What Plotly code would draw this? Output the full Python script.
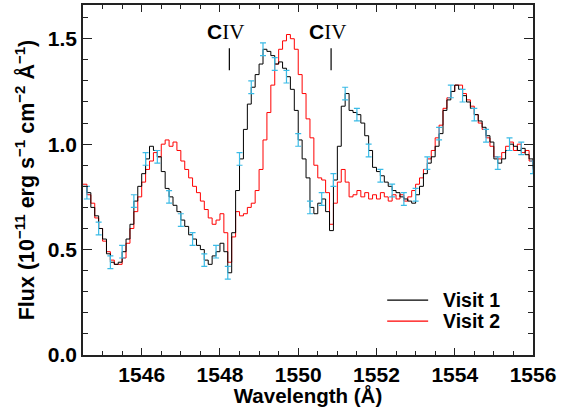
import numpy as np
import plotly.graph_objects as go

# Wavelength sampling (Angstrom), 0.1 A steps from 1544.5 to 1556.0
wl_start, wl_step, n_pts = 1544.5, 0.1, 116
wavelength = np.round(wl_start + wl_step * np.arange(n_pts), 2)

visit1 = [
    0.80, 0.77, 0.70, 0.66, 0.60, 0.55, 0.48, 0.44, 0.43, 0.44,
    0.49, 0.55, 0.62, 0.73, 0.80, 0.86, 0.93, 0.99, 0.97, 0.94,
    0.87, 0.79, 0.75, 0.71, 0.68, 0.64, 0.61, 0.57, 0.55, 0.52,
    0.50, 0.45, 0.43, 0.47, 0.49, 0.53, 0.49, 0.39, 0.58, 0.78,
    0.93, 1.07, 1.19, 1.27, 1.33, 1.38, 1.45, 1.44, 1.42, 1.38,
    1.39, 1.36, 1.32, 1.26, 1.16, 1.02, 0.93, 0.84, 0.70, 0.67,
    0.72, 0.74, 0.68, 0.59, 0.83, 0.99, 1.18, 1.24, 1.16, 1.15,
    1.14, 1.10, 1.04, 0.97, 0.89, 0.87, 0.85, 0.82, 0.80, 0.78,
    0.77, 0.75, 0.74, 0.73, 0.72, 0.76, 0.80, 0.86, 0.91, 0.94,
    0.99, 1.05, 1.16, 1.21, 1.25, 1.28, 1.26, 1.23, 1.20, 1.17,
    1.14, 1.11, 1.08, 1.04, 1.01, 0.93, 0.91, 0.93, 0.97, 1.00,
    0.99, 0.97, 0.98, 0.95, 0.93, 0.89,
]

visit2 = [
    0.81, 0.76, 0.72, 0.65, 0.60, 0.54, 0.49, 0.45, 0.43, 0.43,
    0.46, 0.53, 0.60, 0.68, 0.75, 0.82, 0.88, 0.92, 0.96, 0.94,
    1.00, 1.02, 0.99, 1.01, 0.97, 0.92, 0.88, 0.84, 0.80, 0.77,
    0.73, 0.69, 0.65, 0.62, 0.64, 0.67, 0.58, 0.44, 0.56, 0.68,
    0.66, 0.67, 0.70, 0.72, 0.78, 0.88, 1.02, 1.15, 1.28, 1.38,
    1.45, 1.49, 1.52, 1.50, 1.45, 1.33, 1.24, 1.12, 1.03, 0.90,
    0.84, 0.83, 0.77, 0.62, 0.72, 0.82, 0.88, 0.82, 0.75, 0.76,
    0.78, 0.75, 0.77, 0.74, 0.76, 0.74, 0.77, 0.75, 0.73, 0.76,
    0.74, 0.76, 0.73, 0.75, 0.78, 0.81, 0.84, 0.88, 0.93, 0.97,
    1.03, 1.09, 1.17, 1.22, 1.25, 1.28, 1.28, 1.24, 1.21, 1.18,
    1.14, 1.10, 1.07, 1.03, 0.99, 0.94, 0.93, 0.96, 0.99, 1.01,
    0.97, 1.00, 0.96, 0.97, 0.92, 0.88,
]

visit1_err = 0.03           # flux uncertainty shown by the cyan bars
err_every = 3               # error bars drawn on every 3rd pixel of Visit 1

civ_wavelength = [1548.24, 1550.84]   # C IV doublet markers
civ_mark_top, civ_mark_bottom, civ_label_y = 1.455, 1.35, 1.53

series_names = ["Visit 1", "Visit 2"]
series_colors = ["#000000", "#ff0000"]

x_ticks = [1546, 1548, 1550, 1552, 1554, 1556]
y_ticks = [0.0, 0.5, 1.0, 1.5]

font_family = "Liberation Sans, Arial, sans-serif"

fig = go.Figure()
fig.add_trace(go.Scatter(x=wavelength, y=visit2, mode="lines", line_shape="hv",
                         line=dict(color=series_colors[1], width=1), showlegend=False))
fig.add_trace(go.Scatter(x=wavelength, y=visit1, mode="lines", line_shape="hv",
                         line=dict(color=series_colors[0], width=1), showlegend=False))
fig.add_trace(go.Scatter(x=wavelength[1::err_every], y=visit1[1::err_every], mode="markers",
                         marker=dict(size=1, color="#3bbbe6", opacity=0),
                         error_y=dict(type="constant", value=visit1_err, color="#3bbbe6",
                                      thickness=1.2, width=3),
                         showlegend=False))

# C IV markers
for w in civ_wavelength:
    fig.add_shape(type="line", x0=w, x1=w, y0=civ_mark_bottom, y1=civ_mark_top,
                  xref="x", yref="y", line=dict(color="black", width=1.2))
    fig.add_annotation(x=w - 0.1, y=civ_label_y, xref="x", yref="y", showarrow=False,
                       text="<b>C</b><span style='font-family:Liberation Serif'>IV</span>",
                       font=dict(family=font_family, size=21, color="black"))

# manual legend
legend_rows = [0.157, 0.097]
for name, col, yy in zip(series_names, series_colors, legend_rows):
    fig.add_shape(type="line", xref="paper", yref="paper", x0=0.676, x1=0.767, y0=yy, y1=yy,
                  line=dict(color=col, width=1.2))
    fig.add_annotation(xref="paper", yref="paper", x=0.795, y=yy, xanchor="left", yanchor="middle",
                       showarrow=False, text="<b>%s</b>" % name,
                       font=dict(family=font_family, size=19.5, color="black"))

axis_common = dict(showline=True, linecolor="#222222", linewidth=1.5, mirror="ticks",
                   ticks="inside", tickcolor="#222222", showgrid=False, zeroline=False,
                   automargin=False,
                   tickfont=dict(family=font_family, size=21, color="black"))

fig.update_xaxes(range=[1544.5, 1556.0], tickvals=x_ticks,
                 ticktext=["<b>%d</b>" % t for t in x_ticks], ticklen=7, tickwidth=1,
                 minor=dict(ticks="inside", dtick=0.5, ticklen=4, tickcolor="#222222"),
                 title=dict(text="<b>Wavelength (Å)</b>", standoff=4,
                            font=dict(family=font_family, size=20.5, color="black")),
                 **axis_common)
fig.update_yaxes(range=[0, 1.66], tickvals=y_ticks,
                 ticktext=["<b>%.1f</b>" % t for t in y_ticks], ticklen=9, tickwidth=1,
                 minor=dict(ticks="inside", dtick=0.1, ticklen=5, tickcolor="#222222"),
                 title=dict(text="<b>Flux (10<sup>−11</sup> erg s<sup>−1</sup> cm<sup>−2</sup> Å<sup>−1</sup>)</b>",
                            standoff=7, font=dict(family=font_family, size=21.5, color="black")),
                 **axis_common)

fig.update_layout(width=565, height=407, margin=dict(l=83, r=32, t=5, b=52),
                  plot_bgcolor="white", paper_bgcolor="white", showlegend=False,
                  font=dict(family=font_family))

fig.write_html("out.html", config={"displayModeBar": False},
               post_script="document.body.style.margin='0';document.body.style.padding='0';")
